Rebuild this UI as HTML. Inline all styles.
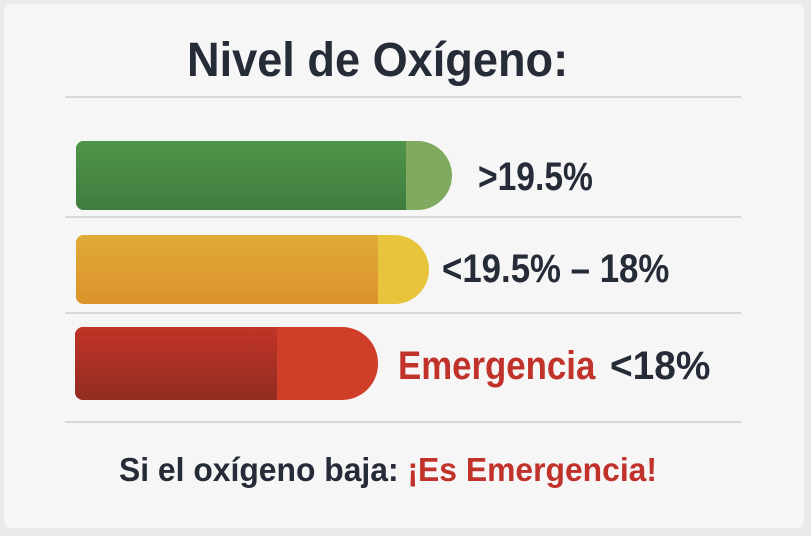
<!DOCTYPE html>
<html><head><meta charset="utf-8"><style>
body{margin:0;width:811px;height:536px;background:#e9eaec;overflow:hidden;font-family:"Liberation Sans",sans-serif;}
.card{position:absolute;left:4px;top:4px;width:800px;height:524px;background:#f6f6f7;border-radius:6px;}
.t{position:absolute;white-space:nowrap;color:#262b38;font-weight:bold;transform-origin:0 50%;}
.hr{position:absolute;left:65px;width:676px;height:2px;background:#d6d8dc;}
.bar{position:absolute;overflow:hidden;}
</style></head><body>
<div class="card"></div>
<div class="t" style="left:187px;top:33px;font-size:48px;transform:scaleX(0.94);">Nivel de Oxígeno:</div>
<div class="hr" style="top:96px"></div>
<div class="bar" style="left:76px;top:141px;width:376px;height:69px;border-radius:8px 36px 36px 8px;background:#7faa5f">
 <div style="width:330px;height:100%;background:linear-gradient(#4f9548,#3f7c40)"></div></div>
<div class="t" style="left:478px;top:155px;font-size:40px;transform:scaleX(0.84);">&gt;19.5%</div>
<div class="hr" style="top:216px"></div>
<div class="bar" style="left:76px;top:235px;width:353px;height:69px;border-radius:8px 36px 36px 8px;background:#e7c43c">
 <div style="width:302px;height:100%;background:linear-gradient(#e0ab36,#dc922c)"></div></div>
<div class="t" style="left:442px;top:247px;font-size:40px;transform:scaleX(0.87);">&lt;19.5% – 18%</div>
<div class="hr" style="top:312px"></div>
<div class="bar" style="left:75px;top:327px;width:303px;height:73px;border-radius:8px 36px 36px 8px;background:#cf3e28">
 <div style="width:202px;height:100%;background:linear-gradient(#c03427,#922c22)"></div></div>
<div class="t" style="left:398px;top:344px;font-size:40px;color:#c0322a;transform:scaleX(0.87);">Emergencia</div>
<div class="t" style="left:610px;top:344px;font-size:40px;transform:scaleX(0.97);">&lt;18%</div>
<div class="hr" style="top:421px"></div>
<div class="t" style="left:119px;top:451px;font-size:33px;transform:scaleX(0.965);">Si el oxígeno baja: <span style="color:#c0322a">¡Es Emergencia!</span></div>
</body></html>
